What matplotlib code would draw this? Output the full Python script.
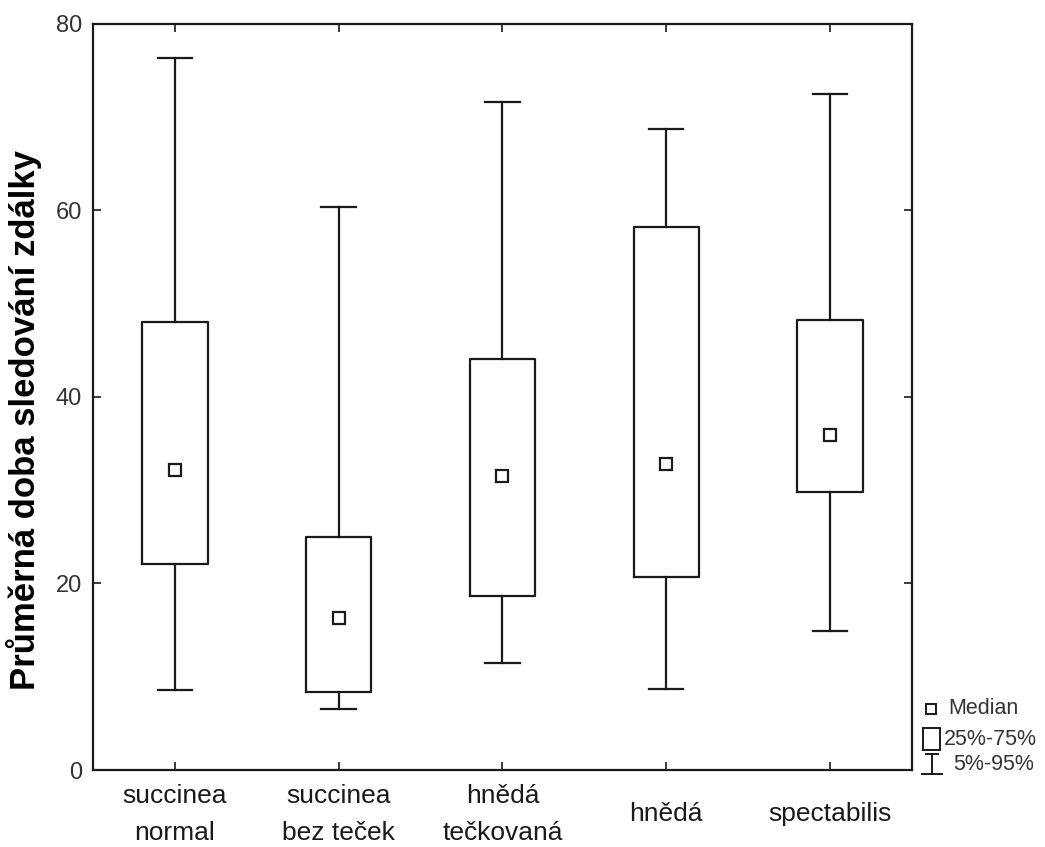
import matplotlib
matplotlib.use("Agg")
from matplotlib import pyplot as plt
from matplotlib.patches import Rectangle
from matplotlib.lines import Line2D

#Data
categories = ["succinea\nnormal", "succinea\nbez teček", "hnědá\ntečkovaná", "hnědá", "spectabilis"]
p5 = [8.6, 6.5, 11.5, 8.7, 14.9]
q25 = [22.1, 8.4, 18.7, 20.7, 29.8]
median = [32.2, 16.3, 31.5, 32.8, 35.9]
q75 = [48.0, 25.0, 44.1, 58.2, 48.3]
p95 = [76.3, 60.4, 71.6, 68.7, 72.5]
yticks = [0, 20, 40, 60, 80]

plt.rcParams['font.family'] = ['Liberation Sans', 'DejaVu Sans']
ink = '#1a1a1a'

fig = plt.figure(figsize=(10.45, 8.47), dpi=100)
ax = fig.add_axes([0.089, 0.0909, 0.7837, 0.8808])

#Build stats for bxp so the library draws boxes and whiskers
stats = []
for i in range(len(categories)):
	stats.append({'med': median[i], 'q1': q25[i], 'q3': q75[i],
		'whislo': p5[i], 'whishi': p95[i], 'fliers': []})
pos = list(range(1, len(categories) + 1))

ax.bxp(stats, positions=pos, widths=0.40, showfliers=False,
	boxprops=dict(color=ink, linewidth=1.6),
	whiskerprops=dict(color=ink, linewidth=1.6),
	capprops=dict(color=ink, linewidth=1.6),
	medianprops=dict(linewidth=0), capwidths=0.21)
ax.plot(pos, median, 's', ls='none', mfc='white', mec=ink, mew=1.6, ms=8)

ax.set_xlim(0.5, 5.5)
ax.set_ylim(0, 80)
ax.set_yticks(yticks)
ax.set_xticks(pos)
ax.set_xticklabels(categories, fontsize=19, linespacing=1.65)
for lab in ax.get_xticklabels():
	lab.set_va('center')
ax.tick_params(axis='x', direction='in', top=True, length=6, width=1.2, pad=32, colors=ink)
ax.tick_params(axis='y', direction='in', right=True, length=6, width=1.2, pad=8,
	labelsize=17, colors=ink, labelcolor='#333333')
for sp in ax.spines.values():
	sp.set_linewidth(1.6)
	sp.set_color(ink)

ax.set_ylabel("Průměrná doba sledování zdálky", fontsize=25, fontweight='bold')
ax.yaxis.set_label_coords(-0.062, 0.469)

#Hand drawn key at the lower right, in figure pixels
W, H = 1045.0, 847.0
def fx(x): return x / W
def fy(y): return 1 - y / H
fig.add_artist(Line2D([fx(931)], [fy(709)], marker='s', mfc='white', mec=ink, mew=1.4, ms=7,
	transform=fig.transFigure))
fig.add_artist(Rectangle((fx(923), fy(750)), 17 / W, 22 / H, fill=False, ec=ink, lw=1.4,
	transform=fig.transFigure))
fig.add_artist(Line2D([fx(932), fx(932)], [fy(754), fy(774)], color=ink, lw=1.4, transform=fig.transFigure))
fig.add_artist(Line2D([fx(926), fx(938)], [fy(754), fy(754)], color=ink, lw=1.4, transform=fig.transFigure))
fig.add_artist(Line2D([fx(922), fx(942)], [fy(774), fy(774)], color=ink, lw=1.4, transform=fig.transFigure))
fig.text(fx(948), fy(709), "Median", fontsize=15.5, va='center', color='#333333')
fig.text(fx(944), fy(739), "25%-75%", fontsize=15.5, va='center', color='#333333')
fig.text(fx(953), fy(764), "5%-95%", fontsize=15.5, va='center', color='#333333')

fig.savefig("out.png", dpi=100)
